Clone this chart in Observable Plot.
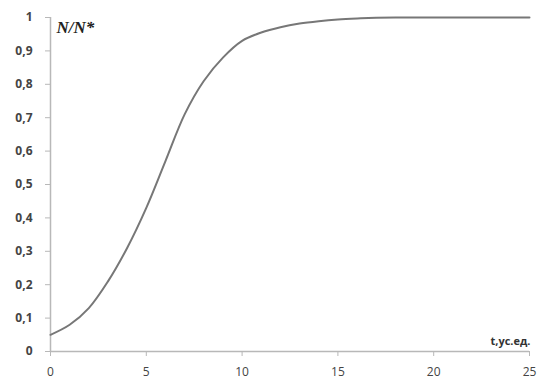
<!DOCTYPE html>
<html>
<head>
<meta charset="utf-8">
<script src="https://cdn.jsdelivr.net/npm/d3@7"></script>
<script src="https://cdn.jsdelivr.net/npm/@observablehq/plot@0.6"></script>
<style>
html, body { margin: 0; padding: 0; background: #fff; }
#chart { width: 540px; height: 379px; position: relative; }
</style>
</head>
<body>
<div id="chart"></div>
<script>
const tValues = [0,1,2,3,4,5,6,7,8,9,10,11,12,13,14,15,16,17,18,19,20,21,22,23,24,25];
const ratioValues = [0.05,0.08,0.13,0.21,0.31,0.43,0.57,0.71,0.81,0.88,0.93,0.955,0.971,0.982,0.989,0.994,0.997,0.999,1,1,1,1,1,1,1,1];
const xTicks = [0,5,10,15,20,25];
const yTicks = [0,0.1,0.2,0.3,0.4,0.5,0.6,0.7,0.8,0.9,1];
const yLabel = "N/N*";
const xLabel = "t,ус.ед.";

const data = tValues.map((t, i) => ({t, v: ratioValues[i]}));
const fmt = d => String(d).replace(".", ",");

const chart = Plot.plot({
  width: 540,
  height: 379,
  marginLeft: 50,
  marginRight: 11,
  marginTop: 17,
  marginBottom: 28,
  style: {fontFamily: "'Open Sans', sans-serif", fontSize: "12px", background: "#fff", color: "#444"},
  x: {domain: [0, 25]},
  y: {domain: [0, 1]},
  marks: [
    Plot.ruleX([0], {stroke: "#b8b8b8", strokeWidth: 1.5}),
    Plot.ruleY([0], {stroke: "#b8b8b8", strokeWidth: 1.5}),
    Plot.axisY({ticks: yTicks, tickFormat: fmt, tickSize: 5, tickPadding: 13, stroke: "#b8b8b8", strokeOpacity: 1, fill: "#444", label: null, fontWeight: "bold"}),
    Plot.axisX({ticks: xTicks, tickSize: 5, tickPadding: 11, stroke: "#b8b8b8", strokeOpacity: 1, fill: "#444", label: null}),
    Plot.line(data, {x: "t", y: "v", stroke: "#777", strokeWidth: 2, curve: "catmull-rom"}),
    Plot.text([yLabel], {frameAnchor: "top-left", dx: 6, dy: 3, fontFamily: "'Liberation Serif', serif", fontStyle: "italic", fontWeight: "bold", fontSize: 17, fill: "#222", textAnchor: "start", lineAnchor: "top"}),
    Plot.text([xLabel], {frameAnchor: "bottom-right", dx: -19, dy: -7, fontWeight: "bold", fontSize: 11, fill: "#333", textAnchor: "middle", lineAnchor: "bottom"})
  ]
});
document.getElementById("chart").appendChild(chart);
</script>
</body>
</html>
